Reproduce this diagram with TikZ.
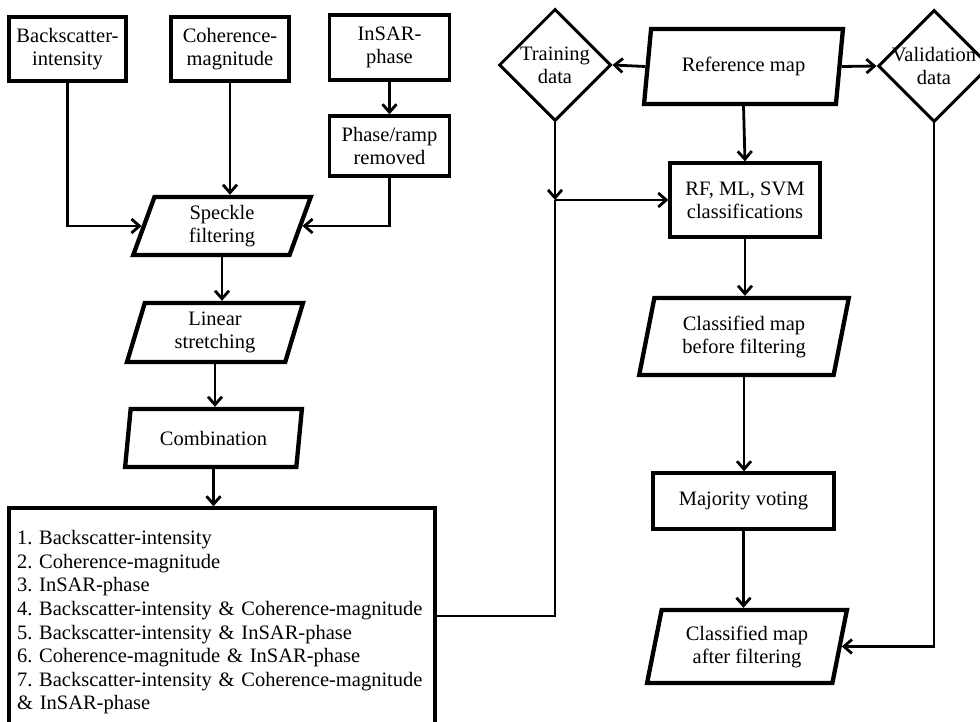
\documentclass[tikz,border=0pt]{standalone}
\usepackage{fontspec}
\setmainfont{Liberation Serif}
\usetikzlibrary{shapes.geometric,arrows.meta}
\frenchspacing
\begin{document}
\begin{tikzpicture}[x=1pt,y=-1pt,
  txt/.style={font={\fontsize{20.5}{23}\selectfont}},
  box/.style={txt,draw,line width=3.3pt,rectangle,align=center,inner sep=0pt},
  para/.style={txt,draw,line width=4.3pt,trapezium,trapezium left angle=76,trapezium right angle=104,trapezium stretches=true,align=center,inner sep=0pt},
  diam/.style={txt,draw,line width=3pt,diamond,inner sep=-6pt,minimum width=112pt,minimum height=112pt,align=center},
  arr/.style={line width=2.8pt,-{Straight Barb[length=8pt,width=14pt]}},
  ln/.style={line width=2.8pt}]
\useasboundingbox (0,0) rectangle (980,722);
% left column
\node[box,minimum width=117pt,minimum height=64pt] (back) at (67.5,49) {Backscatter-\\intensity};
\node[box,minimum width=118pt,minimum height=64pt] (coh) at (230,49) {Coherence-\\magnitude};
\node[box,minimum width=120pt,minimum height=65pt] (insar) at (389.5,47.5) {InSAR-\\phase};
\node[box,minimum width=120pt,minimum height=60pt] (ramp) at (389.5,146) {Phase/ramp\\removed};
\node[para,minimum width=178pt,minimum height=58pt] (speckle) at (222,226) {Speckle\\filtering};
\node[para,minimum width=176pt,minimum height=59pt] (linear) at (215,332.5) {Linear\\stretching};
\node[para,minimum width=177pt,minimum height=58pt] (comb) at (213.5,438) {Combination};
\node[font={\fontsize{20.5}{23.6}\selectfont},draw,line width=3.3pt,rectangle,minimum width=426pt,minimum height=216pt,text width=410pt,inner xsep=8pt,align=left] (list) at (222,616) {\rule{0pt}{27pt}1. Backscatter-intensity\\
2. Coherence-magnitude\\
3. InSAR-phase\\
4. Backscatter-intensity \& Coherence-magnitude\\
5. Backscatter-intensity \& InSAR-phase\\
6. Coherence-magnitude \& InSAR-phase\\
7. Backscatter-intensity \& Coherence-magnitude\\
\& InSAR-phase};
% right column
\node[diam] (train) at (555,65) {Training\\data};
\node[para,minimum width=199pt,minimum height=75pt] (ref) at (743.5,66.5) {Reference map};
\node[diam] (valid) at (934,66) {Validation\\data};
\node[box,minimum width=150pt,minimum height=74pt] (rf) at (745,200) {RF, ML, SVM\\classifications};
\node[para,minimum width=210pt,minimum height=77pt] (cbefore) at (744,336.5) {Classified map\\before filtering};
\node[box,minimum width=181pt,minimum height=56pt] (major) at (743.5,501) {Majority voting};
\node[para,minimum width=200pt,minimum height=73pt] (cafter) at (747,646.5) {Classified map\\after filtering};
\coordinate (junc) at (train.south |- rf.west);
% connectors
\draw[arr] (back.south) |- (speckle.west);
\draw[arr] (coh.south) -- (coh.south |- speckle.north);
\draw[arr] (insar) -- (ramp);
\draw[arr] (ramp.south) |- (speckle.east);
\draw[arr] (speckle.south) -- (speckle.south |- linear.north);
\draw[arr] (linear.south) -- (linear.south |- comb.north);
\draw[arr] (comb.south) -- (comb.south |- list.north);
\draw[ln] (list.east) -| (junc);
\draw[arr] (train.south) -- (junc);
\draw[arr] (junc) -- (rf.west);
\draw[arr] (ref.west) -- (train.east);
\draw[arr] (ref.east) -- (valid.west);
\draw[arr] (ref.south) -- (rf.north);
\draw[arr] (rf.south) -- (rf.south |- cbefore.north);
\draw[arr] (cbefore.south) -- (cbefore.south |- major.north);
\draw[arr] (major.south) -- (major.south |- cafter.north);
\draw[arr] (valid.south) |- (cafter.east);
\end{tikzpicture}
\end{document}
